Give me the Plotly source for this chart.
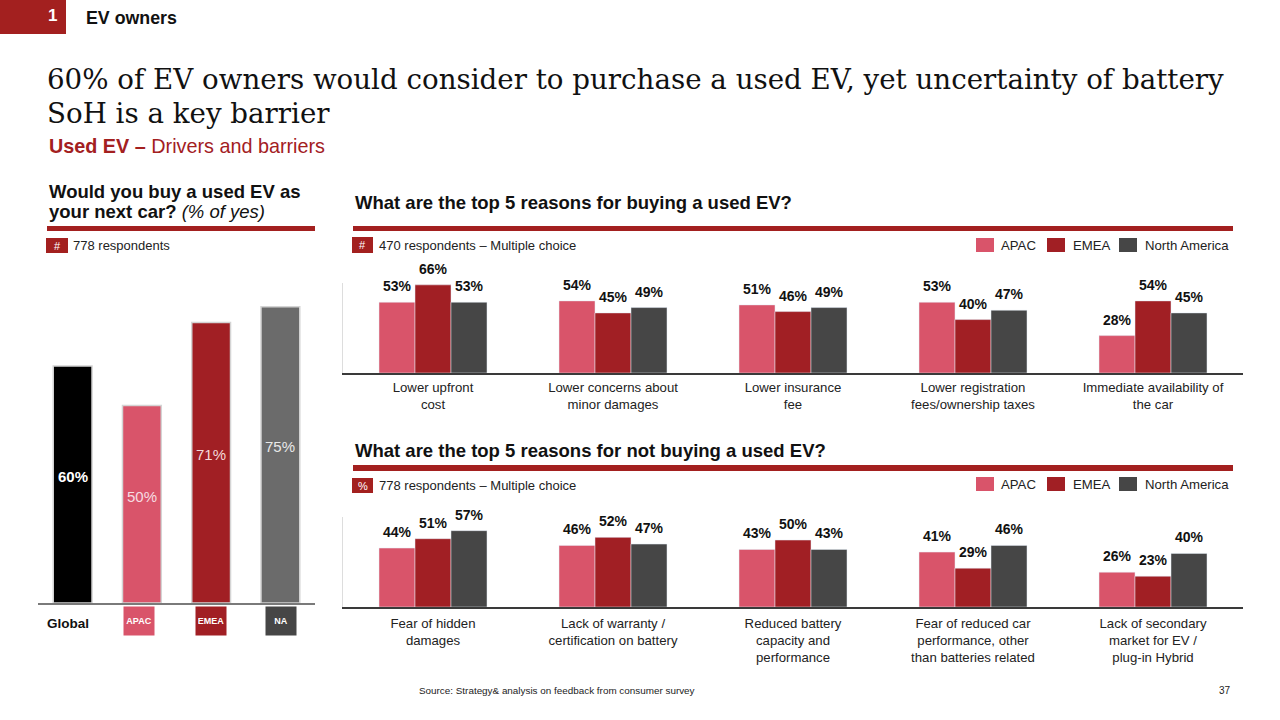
import plotly.graph_objects as go

# ---------------- DATA ----------------
left_categories = ["Global", "APAC", "EMEA", "NA"]
left_values = [60, 50, 71, 75]

regions = ["APAC", "EMEA", "North America"]

buy_categories = [
    "Lower upfront<br>cost",
    "Lower concerns about<br>minor damages",
    "Lower insurance<br>fee",
    "Lower registration<br>fees/ownership taxes",
    "Immediate availability of<br>the car",
]
buy_apac = [53, 54, 51, 53, 28]
buy_emea = [66, 45, 46, 40, 54]
buy_na = [53, 49, 49, 47, 45]

notbuy_categories = [
    "Fear of hidden<br>damages",
    "Lack of warranty /<br>certification on battery",
    "Reduced battery<br>capacity and<br>performance",
    "Fear of reduced car<br>performance, other<br>than batteries related",
    "Lack of secondary<br>market for EV /<br>plug-in Hybrid",
]
notbuy_apac = [44, 46, 43, 41, 26]
notbuy_emea = [51, 52, 50, 29, 23]
notbuy_na = [57, 47, 43, 46, 40]

# ---------------- STYLE ----------------
W, H = 1280, 720
RED = "#a3201f"
PINK = "#d9546a"
DRED = "#a11f24"
DGRAY = "#464646"
MGRAY = "#6b6b6b"
SANS = "Liberation Sans, Arial, sans-serif"
SERIF = "DejaVu Serif, Georgia, serif"
BARGAP = 0.4


def px(x):
    return x / W


def py(y):
    return 1 - y / H


fig = go.Figure()
annotations = []
shapes = []

# ---------- left chart ----------
left_colors = ["#000000", PINK, DRED, MGRAY]
left_text_colors = ["#ffffff", "#f6dde2", "#f3d9da", "#e8e8e8"]
fig.add_trace(go.Bar(
    x=left_categories, y=left_values, xaxis="x", yaxis="y",
    marker=dict(color=left_colors, line=dict(color="#d4d4d4", width=1.5)),
    width=0.56, showlegend=False, hoverinfo="skip",
))
for i, (cat, v, tc) in enumerate(zip(left_categories, left_values, left_text_colors)):
    label = ("<b>%d%%</b>" if i == 0 else "%d%%") % v
    annotations.append(dict(x=cat, y=v / 2, xref="x", yref="y", text=label,
                            showarrow=False, yanchor="middle", yshift=8,
                            font=dict(size=15, color=tc, family=SANS)))

# ---------- right charts ----------
region_colors = [PINK, DRED, DGRAY]
n_reg = len(regions)
bar_w = (1 - BARGAP) / n_reg
offsets = [(-(n_reg - 1) / 2 + k) * bar_w for k in range(n_reg)]


def add_group_chart(cats, series, xa, ya):
    for k, (name, vals, col) in enumerate(zip(regions, series, region_colors)):
        fig.add_trace(go.Bar(
            x=cats, y=vals, name=name, xaxis=xa, yaxis=ya,
            marker=dict(color=col), showlegend=False, hoverinfo="skip",
        ))
        for i, v in enumerate(vals):
            annotations.append(dict(
                x=i + offsets[k], y=v, xref=xa, yref=ya, text="<b>%d%%</b>" % v,
                showarrow=False, yanchor="bottom", yshift=6,
                font=dict(size=14, color="#111", family=SANS)))


add_group_chart(buy_categories, [buy_apac, buy_emea, buy_na], "x2", "y2")
add_group_chart(notbuy_categories, [notbuy_apac, notbuy_emea, notbuy_na], "x3", "y3")

axis_common = dict(showgrid=False, zeroline=False, fixedrange=True)
cat_axis = dict(showline=True, linecolor="#3a3a3a", linewidth=2, ticks="outside",
                tickcolor="rgba(0,0,0,0)",
                tickfont=dict(size=13.2, color="#222"), **axis_common)
val_axis = dict(showticklabels=False, showline=True, linecolor="#dddddd",
                linewidth=1, **axis_common)

fig.update_layout(
    width=W, height=H, margin=dict(l=0, r=0, t=0, b=0),
    paper_bgcolor="white", plot_bgcolor="white",
    font=dict(family=SANS, color="#111"),
    barmode="group", bargap=BARGAP, bargroupgap=0, showlegend=False,
    xaxis=dict(domain=[px(38), px(315)], showticklabels=False, showline=True,
               linecolor="#7a7a7a", linewidth=2, **axis_common),
    yaxis=dict(domain=[py(603), py(287)], range=[0, 80], showticklabels=False,
               showline=False, **axis_common),
    xaxis2=dict(domain=[px(343), px(1243)], anchor="y2", ticklen=1, **cat_axis),
    yaxis2=dict(domain=[py(373), py(283)], anchor="x2", range=[0, 67.4], **val_axis),
    xaxis3=dict(domain=[px(343), px(1243)], anchor="y3", ticklen=3, **cat_axis),
    yaxis3=dict(domain=[py(607), py(517)], anchor="x3", range=[0, 67.2], **val_axis),
)


def rect(x0, y0, x1, y1, color):
    shapes.append(dict(type="rect", xref="paper", yref="paper",
                       x0=px(x0), x1=px(x1), y0=py(y1), y1=py(y0),
                       fillcolor=color, line=dict(width=0), layer="above"))


def text(x, y, s, size, color="#111", anchor="left", family=SANS):
    annotations.append(dict(x=px(x), y=py(y), xref="paper", yref="paper",
                            text=s, showarrow=False, xanchor=anchor,
                            yanchor="middle", font=dict(size=size, color=color,
                                                        family=family)))


# header
rect(0, 0, 66, 34, RED)
text(52, 15, "<b>1</b>", 17, "white", anchor="center")
text(84, 18, "<b>EV owners</b>", 17.8, "#111")

# title
text(45, 79, "60% of EV owners would consider to purchase a used EV, yet uncertainty of battery",
     27.7, "#111", family=SERIF)
text(45, 113, "SoH is a key barrier", 27.7, "#111", family=SERIF)
text(47, 146, "<b>Used EV –</b> Drivers and barriers", 19.8, RED)

# left header
text(47, 192, "<b>Would you buy a used EV as</b>", 18.5)
text(47, 211, "<b>your next car?</b> <i>(% of yes)</i>", 18.5)
rect(47, 226, 315, 231, RED)
rect(46, 238, 68, 253, RED)
text(57, 245.5, "#", 11, "white", anchor="center")
text(71, 245, "778 respondents", 13, "#222")

# top-right header
text(353, 202, "<b>What are the top 5 reasons for buying a used EV?</b>", 18.5)
rect(353, 226, 1233, 231, RED)
rect(352, 237, 373, 253, RED)
text(362.5, 245, "#", 11, "white", anchor="center")
text(377, 245, "470 respondents – Multiple choice", 13, "#222")

# bottom-right header
text(353, 450, "<b>What are the top 5 reasons for not buying a used EV?</b>", 18.5)
rect(353, 465, 1233, 471, RED)
rect(352, 478, 373, 493, RED)
text(362.5, 485.5, "%", 11, "white", anchor="center")
text(377, 485, "778 respondents – Multiple choice", 13, "#222")

# legends (keys next to each chart header)
legend_x = [(976, 994, 999), (1047, 1065, 1071), (1119, 1137, 1143)]
for (y0, y1, ty) in [(238, 252, 245), (477, 491, 484)]:
    for name, col, (sx0, sx1, tx) in zip(regions, region_colors, legend_x):
        rect(sx0, y0, sx1, y1, col)
        text(tx, ty, name, 13.2, "#222")

# left chart category labels
annotations.append(dict(x="Global", y=py(623), xref="x", yref="paper", text="<b>Global</b>",
                        showarrow=False, xshift=-5, yanchor="middle",
                        font=dict(size=13.5, color="#111")))
badge_colors = [PINK, DRED, DGRAY]
badge_shift = [-3, 0, 1]
for cat, col, sh in zip(left_categories[1:], badge_colors, badge_shift):
    annotations.append(dict(x=cat, y=py(621), xref="x", yref="paper",
                            text="<b>%s</b>" % cat, showarrow=False, yanchor="middle",
                            width=26, height=24, bgcolor=col, borderpad=2, xshift=sh,
                            font=dict(size=9, color="white")))

# footer
FOOT = "Liberation Sans Narrow, Arial Narrow, Liberation Sans, sans-serif"
text(417, 690, "Source: Strategy& analysis on feedback from consumer survey", 9.9, "#222",
     family=FOOT)
text(1233, 690, "37", 10, "#222", anchor="right", family=FOOT)

fig.update_layout(shapes=shapes, annotations=annotations)

fig.write_html("out.html")
